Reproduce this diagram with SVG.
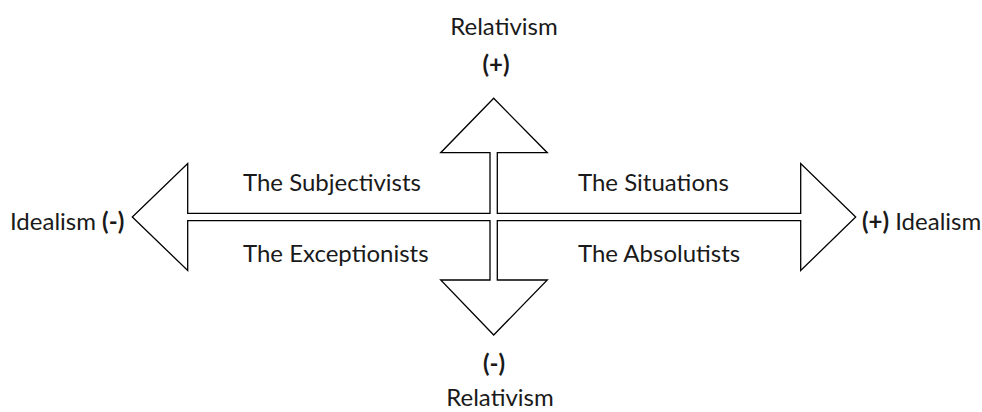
<svg xmlns="http://www.w3.org/2000/svg" width="982" height="412" viewBox="0 0 982 412">
<style>
  .shape { fill: #ffffff; stroke: #000000; stroke-width: 1.3; stroke-linejoin: miter; }
  text { font-family: Lato, "Open Sans", "Liberation Sans", sans-serif; font-size: 24px; fill: #1a1a1a; }
  .b { font-weight: bold; }
  .mid { text-anchor: middle; }
</style>
<rect width="982" height="412" fill="#ffffff"/>
<g id="connectors"></g>
<g id="cross-arrow">
  <path class="shape" d="M493.7,98.3 L547.3,152.7 L497.3,152.7 L497.3,213.3 L800.7,213.3 L800.7,163.5 L855.7,217 L800.7,270.5 L800.7,220.7 L497.3,220.7 L497.3,280 L547.3,280 L493.7,335 L440.7,280 L490,280 L490,220.7 L187.7,220.7 L187.7,270.5 L132.3,217 L187.7,163.5 L187.7,213.3 L490,213.3 L490,152.7 L440.7,152.7 Z"/>
</g>
<g id="top-label">
  <text class="mid" x="504" y="34.5">Relativism</text>
  <text class="mid b" x="496" y="72.5">(+)</text>
</g>
<g id="bottom-label">
  <text class="mid b" x="494" y="372">(-)</text>
  <text class="mid" x="500" y="406">Relativism</text>
</g>
<g id="left-label">
  <text x="10" y="230">Idealism <tspan class="b">(-)</tspan></text>
</g>
<g id="right-label">
  <text x="862" y="230"><tspan class="b">(+)</tspan> Idealism</text>
</g>
<g id="q-subjectivists"><text x="243" y="191">The Subjectivists</text></g>
<g id="q-situations"><text x="578" y="191">The Situations</text></g>
<g id="q-exceptionists"><text x="243" y="262">The Exceptionists</text></g>
<g id="q-absolutists"><text x="578" y="262">The Absolutists</text></g>
</svg>
